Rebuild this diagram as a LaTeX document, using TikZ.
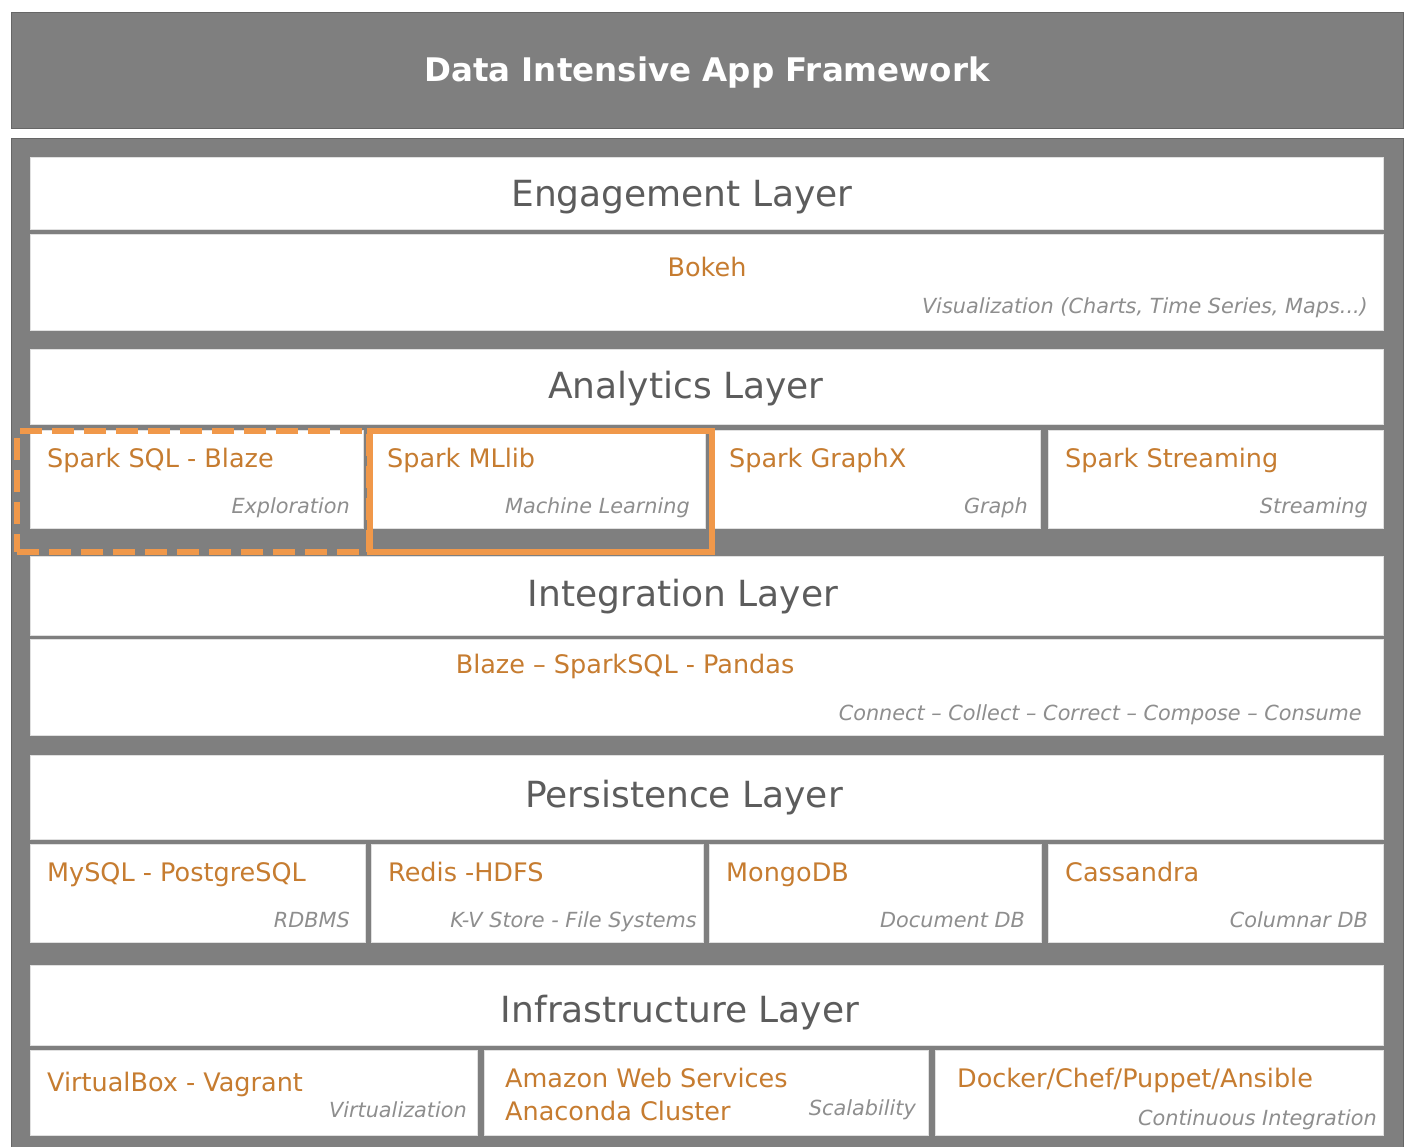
\documentclass[tikz,border=0pt]{standalone}
\usepackage{fontspec}
\setmainfont{DejaVu Sans}
\usetikzlibrary{positioning}
\definecolor{framegray}{RGB}{127,127,127}
\definecolor{titlegray}{RGB}{92,92,92}
\definecolor{tooltext}{RGB}{198,124,48}
\definecolor{rolegray}{RGB}{142,142,142}
\definecolor{hilite}{RGB}{240,152,74}

\tikzset{
    band/.style={draw=black!12, line width=0.8pt, fill=white, anchor=north west, inner sep=0pt, outer sep=0pt},
    layertitle/.style={text=titlegray, anchor=base, inner sep=0pt, font=\fontsize{36}{41}\selectfont},
    tool/.style={text=tooltext, anchor=base west, inner sep=0pt, font=\fontsize{25.5}{30}\selectfont},
    role/.style={text=rolegray, anchor=base east, inner sep=0pt, font=\itshape\fontsize{20.8}{25}\selectfont},
    focus/.style={draw=hilite, line width=6pt, anchor=north west, inner sep=0pt}
}

\begin{document}
\begin{tikzpicture}[x=1pt,y=-1pt]
    \useasboundingbox[fill=white] (0,0) rectangle (1408,1146);

    % header and gray panel
    \node[fill=framegray, draw=black!60, line width=0.8pt, anchor=north west, inner sep=0pt,
          minimum width=1392pt, minimum height=116pt] (head) at (11,12) {};
    \node[text=white, anchor=base, inner sep=0pt, font=\bfseries\fontsize{32.5}{38}\selectfont]
          (headtitle) at (707,81) {Data Intensive App Framework};
    \node[fill=framegray, draw=black!60, line width=0.8pt, anchor=north west, inner sep=0pt,
          minimum width=1392pt, minimum height=1012pt] (panel) at (11,138) {};

    % full width bands
    \foreach \n/\ya/\yb in {eng/157/229, bokeh/234/330, ana/349/424, integ/556/635,
                            blaze/639/735, persist/755/839, infra/965/1045} {
        \node[band, minimum width=1353pt, minimum height={(\yb-\ya)*1pt}] (\n) at (30,\ya) {};
    }
    \node[layertitle] (engtitle) at (682,206) {Engagement Layer};
    \node[layertitle] (anatitle) at (686,398) {Analytics Layer};
    \node[layertitle] (integtitle) at (683,606) {Integration Layer};
    \node[layertitle] (persisttitle) at (684,807) {Persistence Layer};
    \node[layertitle] (infratitle) at (680,1022) {Infrastructure Layer};

    \node[tool, anchor=base] (bokehtool) at (707,276) {Bokeh};
    \node[role] (bokehrole) at (1368,313) {Visualization (Charts, Time Series, Maps...)};
    \node[tool, anchor=base] (blazetool) at (625,673) {Blaze – SparkSQL - Pandas};
    \node[role] (blazerole) at (1362,720) {Connect – Collect – Correct – Compose – Consume};

    % analytics cells
    \foreach \n/\xa/\xb/\xr/\tool/\role in {sql/30/363/350/Spark SQL - Blaze/Exploration,
            mllib/370/705/690/Spark MLlib/Machine Learning,
            graphx/712/1040/1028/Spark GraphX/Graph,
            stream/1048/1383/1368/Spark Streaming/Streaming} {
        \node[band, minimum width={(\xb-\xa)*1pt}, minimum height=98pt] (\n) at (\xa,430) {};
        \node[tool] (\n-tool) at ({\xa+17},467) {\tool};
        \node[role] (\n-role) at (\xr,513) {\role};
    }

    % persistence cells
    \foreach \n/\xa/\xb/\xr/\tool/\role in {rdbms/30/365/350/MySQL - PostgreSQL/RDBMS,
            redis/371/703/697/Redis -HDFS/K-V Store - File Systems,
            mongo/709/1041/1025/MongoDB/Document DB,
            cass/1048/1383/1368/Cassandra/Columnar DB} {
        \node[band, minimum width={(\xb-\xa)*1pt}, minimum height=98pt] (\n) at (\xa,844) {};
        \node[tool] (\n-tool) at ({\xa+17},881) {\tool};
        \node[role] (\n-role) at (\xr,927) {\role};
    }

    % infrastructure cells
    \foreach \n/\xa/\xb in {virt/30/477, cloud/484/928, ci/935/1383} {
        \node[band, minimum width={(\xb-\xa)*1pt}, minimum height=85pt] (\n) at (\xa,1050) {};
    }
    \node[tool] (virt-tool) at (47,1091) {VirtualBox - Vagrant};
    \node[role] (virt-role) at (467,1117) {Virtualization};
    \node[tool] (cloud-tool) at (505,1087) {Amazon Web Services};
    \node[tool] (cloud-tool2) at (505,1120) {Anaconda Cluster};
    \node[role] (cloud-role) at (916,1115) {Scalability};
    \node[tool] (ci-tool) at (957,1087) {Docker/Chef/Puppet/Ansible};
    \node[role] (ci-role) at (1377,1125) {Continuous Integration};

    % highlighted analytics cells
    \node[focus, dash pattern=on 22pt off 10pt, minimum width=352pt, minimum height=121pt] (sqlfocus) at (14,428) {};
    \node[focus, minimum width=342pt, minimum height=121pt] (mllibfocus) at (367,428) {};
\end{tikzpicture}
\end{document}
